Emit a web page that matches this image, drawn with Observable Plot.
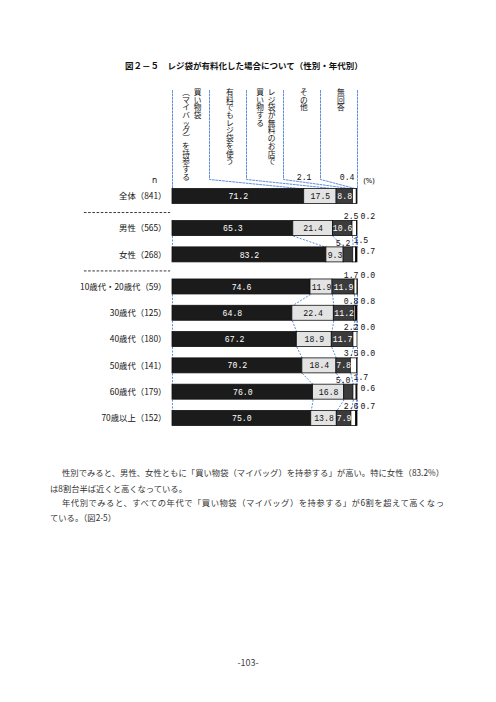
<!DOCTYPE html>
<html><head><meta charset="utf-8">
<script src="https://cdn.jsdelivr.net/npm/d3@7"></script>
<script src="https://cdn.jsdelivr.net/npm/@observablehq/plot@0.6"></script>
<style>
body{margin:0;background:#fff;width:496px;height:702px;position:relative;overflow:hidden;font-family:"Noto Sans CJK JP",sans-serif;}
#title{position:absolute;left:125px;top:59px;font-size:8.5px;line-height:12px;font-weight:700;white-space:nowrap;color:#111;}
#chart{position:absolute;left:0;top:80px;}
.p{position:absolute;font-size:8.3px;line-height:12px;color:#333;white-space:nowrap;}
.j{text-align:justify;text-align-last:justify;text-justify:inter-character;}
#page{position:absolute;top:657px;left:0;width:496px;text-align:center;font-size:9px;line-height:12px;color:#444}
</style></head><body>
<div id="title">図２－５　レジ袋が有料化した場合について（性別・年代別）</div>
<div id="chart"></div>
<div class="p j" style="left:62px;top:466px;width:382px">性別でみると、男性、女性ともに「買い物袋（マイバッグ）を持参する」が高い。特に女性（83.2%）</div>
<div class="p" style="left:50px;top:482px">は8割台半ば近くと高くなっている。</div>
<div class="p j" style="left:62px;top:496px;width:382px">年代別でみると、すべての年代で「買い物袋（マイバッグ）を持参する」が6割を超えて高くなっ</div>
<div class="p" style="left:50px;top:511px">ている。（図2-5）</div>
<div id="page">-103-</div>
<script>
const categories = ["買い物袋（マイバッグ）を持参する","有料でもレジ袋を使う","レジ袋が無料のお店で買い物する","その他","無回答"];
const headerColumns = [["買い物袋","︵マイバッグ︶を持参する"],["有料でもレジ袋を使う"],["レジ袋が無料のお店で","買い物する"],["その他"],["無回答"]];
const groups = [["全体"],["男性","女性"],["10歳代・20歳代","30歳代","40歳代","50歳代","60歳代","70歳以上"]];
const rowNames = ["全体","男性","女性","10歳代・20歳代","30歳代","40歳代","50歳代","60歳代","70歳以上"];
const rowN = [841,565,268,59,125,180,141,179,152];
const share1 = [71.2,65.3,83.2,74.6,64.8,67.2,70.2,76.0,75.0];
const share2 = [17.5,21.4,9.3,11.9,22.4,18.9,18.4,16.8,13.8];
const share3 = [8.8,10.6,5.2,11.9,11.2,11.7,7.8,5.0,7.9];
const share4 = [2.1,2.5,1.5,1.7,0.8,2.2,3.5,1.7,2.6];
const share5 = [0.4,0.2,0.7,0.0,0.8,0.0,0.0,0.6,0.7];

const fills = ["#1b1b1b","#e3e3e3","#3b3b3b","#ffffff","#000000"];
const textFills = ["#fff","#111","#fff"];
const STEP = 26.3, GAP = 0.22, ROW0 = 196, TOP = 80, H = 360, HB = 0.285, XPX = 1.85;
const posOf = py => (py - ROW0) / STEP;
const fmt = d3.format(".1f");

const rows = rowNames.map((name, i) => {
  const g = groups.findIndex(gr => gr.includes(name));
  const vals = [share1[i], share2[i], share3[i], share4[i], share5[i]];
  const cum = [0];
  vals.forEach(v => cum.push(cum[cum.length - 1] + v));
  cum[5] = 100;
  return {i, name, g, pos: i + GAP * g, vals, cum, label: name + "（" + rowN[i] + "）"};
});

const segs = [];
rows.forEach(r => r.vals.forEach((v, k) => segs.push({r, k, v, x1: r.cum[k], x2: k === 4 ? 100 : r.cum[k + 1]})));

const inside = segs.filter(s => s.k < 3 && s.v >= 7);

// outside labels: offsets given in pixels, converted to scale units
const outEnd = [], outStart = [];
const addOut = (r, v, anchor, dxPx, dyPx, xBase) =>
  (anchor === "end" ? outEnd : outStart).push({v, x: xBase + dxPx / XPX, y: r.pos + dyPx / STEP});
rows.forEach(r => {
  const s3 = r.vals[2], s4 = r.vals[3], s5 = r.vals[4];
  if (r.i === 0) {
    addOut(r, s4, "end", -9, 177 - ROW0, 80);
    addOut(r, s5, "end", -3, 177 - ROW0, 100);
  } else if (s3 < 7) {
    addOut(r, s3, "end", -7, -12, 100);
    addOut(r, s4, "start", -4, -15, 100);
    addOut(r, s5, "start", 3, -4, 100);
  } else {
    addOut(r, s4, "end", 1, -12, 100);
    addOut(r, s5, "start", 3, -12, 100);
  }
});

const links = [];
groups.forEach(gr => {
  for (let a = 0; a < gr.length - 1; a++) {
    const A = rows[rowNames.indexOf(gr[a])], B = rows[rowNames.indexOf(gr[a + 1])];
    for (let k = 0; k <= 5; k++) links.push({x1: A.cum[k], y1: A.pos + HB, x2: B.cum[k], y2: B.pos - HB});
  }
});

const headerLines = [];
const all = rows[0];
for (let k = 0; k <= 5; k++) {
  headerLines.push({k, x: 20 * k, y: posOf(90)});
  headerLines.push({k, x: 20 * k, y: posOf(179)});
  headerLines.push({k, x: all.cum[k], y: all.pos - HB});
}

const headerTexts = [];
headerColumns.forEach((cols, k) => {
  const n = cols.length;
  cols.forEach((c, j) => {
    const cx = n === 1 ? 20 * k + 11 : 20 * k + 10.5 + ((n - 1) / 2 - j) * 6.2;
    headerTexts.push({x: cx, text: Array.from(c).join("\n")});
  });
});

const seps = [];
for (let g = 0; g < groups.length - 1; g++) {
  const last = rows[rowNames.indexOf(groups[g][groups[g].length - 1])];
  const first = rows[rowNames.indexOf(groups[g + 1][0])];
  seps.push((last.pos + first.pos) / 2);
}

const valFont = {fill: "#111", fontFamily: "Liberation Mono", fontSize: 8.2};
const chart = Plot.plot({
  width: 496, height: H, margin: 0,
  style: {background: "transparent", overflow: "visible"},
  x: {type: "linear", domain: [0, 100], range: [172, 357], axis: null},
  y: {type: "linear", domain: [posOf(TOP), posOf(TOP + H)], range: [0, H], axis: null},
  marks: [
    Plot.line(headerLines, {x: "x", y: "y", z: "k", stroke: "#4f80d8", strokeWidth: 0.9, strokeDasharray: "2,1.4"}),
    Plot.link(links, {x1: "x1", y1: "y1", x2: "x2", y2: "y2", stroke: "#4f80d8", strokeWidth: 0.9, strokeDasharray: "2,1.4"}),
    Plot.ruleY(seps, {y: d => d, x1: () => -47.6, x2: () => -1, stroke: "#222", strokeWidth: 0.9, strokeDasharray: "2.6,1.6"}),
    Plot.rect(segs, {x1: "x1", x2: "x2", y1: d => d.r.pos - HB, y2: d => d.r.pos + HB, fill: d => fills[d.k], stroke: "#111", strokeWidth: 0.8}),
    Plot.text(inside, {x: d => (d.x1 + d.x2) / 2, y: d => d.r.pos, text: d => fmt(d.v), fill: d => textFills[d.k], fontFamily: "Liberation Mono", fontSize: 8.2}),
    Plot.text(outEnd, {x: "x", y: "y", text: d => fmt(d.v), textAnchor: "end", ...valFont}),
    Plot.text(outStart, {x: "x", y: "y", text: d => fmt(d.v), textAnchor: "start", ...valFont}),
    Plot.text(rows, {x: () => 0, y: "pos", text: "label", textAnchor: "end", dx: -6, fontSize: 8.4, fill: "#111", fontFamily: "Noto Sans CJK JP"}),
    Plot.text(headerTexts, {x: "x", y: () => posOf(89), text: "text", lineAnchor: "top", lineHeight: 1.0, fontSize: 7.7, fill: "#111", fontFamily: "Noto Sans CJK JP"}),
    Plot.text(["n"], {x: () => 0, y: () => posOf(180), text: d => d, dx: -18, fontSize: 8.4, fill: "#111"}),
    Plot.text(["(%)"], {x: () => 100, y: () => posOf(180), text: d => d, dx: 6, textAnchor: "start", fontSize: 7.8, fill: "#111"})
  ]
});
document.getElementById("chart").appendChild(chart);
</script>
</body></html>
